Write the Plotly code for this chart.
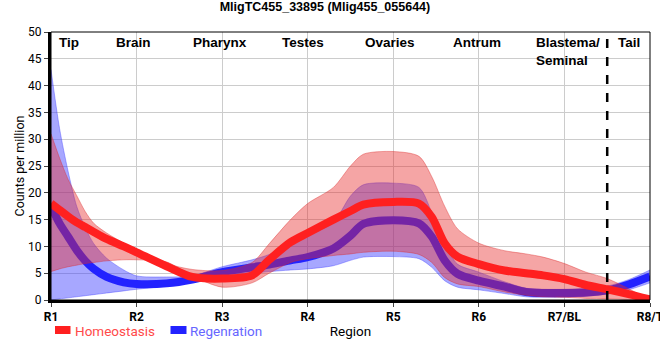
import plotly.graph_objects as go

# ---- data ----
x_pos = [1, 1.1, 1.2, 1.3, 1.4, 1.5, 1.65, 1.85, 2, 2.35, 2.65, 3, 3.35, 3.55, 3.8, 4, 4.3,
         4.5, 4.65, 5, 5.3, 5.45, 5.6, 5.75, 6, 6.3, 6.55, 6.75, 7, 7.25, 7.5, 7.75, 8]

homeo_mean = [18, 16.8, 15.6, 14.5, 13.6, 12.7, 11.4, 10.0, 8.9, 6.3, 4.3, 4.0, 4.6, 7.5, 10.8,
              12.5, 15.0, 16.6, 17.8, 18.3, 18.0, 15.5, 10.6, 8.1, 6.7, 5.5, 5.0, 4.6, 3.9, 2.8,
              2.0, 1.1, 0.1]
homeo_upper = [31, 26.5, 22.5, 19.5, 16.5, 14.3, 12.5, 10.6, 9.3, 6.8, 5.7, 5.5, 7.0, 10.5, 15.0,
               18.0, 21.0, 25.0, 27.2, 27.7, 26.8, 23.0, 17.5, 13.3, 10.6, 9.2, 8.6, 8.0, 6.8, 5.2,
               4.0, 2.1, 0]
homeo_lower = [5.3, 5.8, 6.2, 6.5, 6.8, 7.0, 7.3, 7.5, 7.5, 7.1, 4.5, 2.4, 3.2, 5.0, 7.0,
               7.7, 8.3, 8.6, 8.9, 9.1, 8.5, 7.0, 4.2, 3.0, 2.5, 1.5, 0.9, 0.6, 0.5, 0.3,
               0.2, 0.1, 0]

regen_mean = [17.5, 14.3, 11.8, 9.3, 7.3, 5.8, 4.3, 3.3, 3.0, 3.1, 3.8, 5.2, 6.1, 6.6, 7.4,
              8.0, 9.6, 12.0, 14.2, 14.9, 14.3, 11.8, 7.4, 4.9, 3.6, 2.5, 1.5, 1.3, 1.3, 1.4,
              1.8, 2.9, 4.4]
regen_upper = [43, 32, 24, 17.5, 13.5, 10.5, 7.8, 5.6, 4.5, 4.3, 4.5, 6.2, 7.5, 8.5, 10.5,
               12, 14.5, 19.4, 21.5, 21.8, 21.0, 16.3, 10.5, 6.7, 5.2, 3.4, 2.2, 2.0, 2.0, 2.2,
               2.6, 3.8, 5.6]
regen_lower = [0, 0.2, 0.4, 0.6, 0.8, 1.0, 1.3, 1.7, 2.0, 2.6, 3.3, 4.5, 5.0, 5.3, 5.6,
               5.8, 6.4, 7.4, 8.0, 8.1, 7.7, 6.1, 3.6, 2.4, 1.9, 1.2, 0.6, 0.5, 0.5, 0.7,
               1.1, 1.9, 3.2]

tick_vals = [1, 2, 3, 4, 5, 6, 7, 8]
tick_text = ["R1", "R2", "R3", "R4", "R5", "R6", "R7/BL", "R8/T"]

region_names = ["Tip", "Brain", "Pharynx", "Testes", "Ovaries", "Antrum", "Blastema/<br>Seminal", "Tail"]
region_x = [1.21, 1.96, 2.98, 3.94, 4.96, 5.98, 6.65, 7.76]
region_anchor = ["center", "center", "center", "center", "center", "center", "left", "center"]

series_names = ["Homeostasis", "Regenration"]
series_line_colors = ["#ff2020", "#2222ff"]
series_text_colors = ["#ff4a4a", "#6666ff"]

title_text = "MligTC455_33895 (Mlig455_055644)"

# ---- figure ----
fig = go.Figure()

BLUE_BAND = "rgba(60,60,255,0.45)"
RED_BAND = "rgba(230,40,40,0.42)"
SPL = dict(shape="spline", smoothing=0.8)

fig.add_trace(go.Scatter(x=x_pos, y=regen_lower, mode="lines", line=dict(width=0.8, color="rgba(60,60,255,0.5)", **SPL),
                         showlegend=False, hoverinfo="skip"))
fig.add_trace(go.Scatter(x=x_pos, y=regen_upper, mode="lines", line=dict(width=0.8, color="rgba(60,60,255,0.5)", **SPL),
                         fill="tonexty", fillcolor=BLUE_BAND, showlegend=False, hoverinfo="skip"))
fig.add_trace(go.Scatter(x=x_pos, y=regen_mean, mode="lines", line=dict(width=8, color=series_line_colors[1], **SPL),
                         name=series_names[1], showlegend=False))
fig.add_trace(go.Scatter(x=x_pos, y=homeo_lower, mode="lines", line=dict(width=0.8, color="rgba(220,40,40,0.5)", **SPL),
                         showlegend=False, hoverinfo="skip"))
fig.add_trace(go.Scatter(x=x_pos, y=homeo_upper, mode="lines", line=dict(width=0.8, color="rgba(220,40,40,0.5)", **SPL),
                         fill="tonexty", fillcolor=RED_BAND, showlegend=False, hoverinfo="skip"))
fig.add_trace(go.Scatter(x=x_pos, y=homeo_mean, mode="lines", line=dict(width=8, color=series_line_colors[0], **SPL),
                         name=series_names[0], showlegend=False))

fig.add_shape(type="line", x0=7.5, x1=7.5, y0=0, y1=50, xref="x", yref="y",
              line=dict(color="black", width=2.5, dash="dash"))
fig.add_shape(type="rect", x0=0, x1=1, y0=0, y1=1, xref="paper", yref="paper",
              line=dict(color="black", width=1))

for name, xv, anc in zip(region_names, region_x, region_anchor):
    fig.add_annotation(x=xv, y=1, xref="x", yref="paper", text="<b>" + name + "</b>",
                       showarrow=False, xanchor=anc, yanchor="top", yshift=-1, align="left",
                       font=dict(family="Liberation Sans, Arial", size=13.5, color="black"))

# custom legend (bar + coloured label) below the axis
PW, PH, ML, MB = 599.0, 268.0, 51.0, 300.0
def px_x(p):
    return (p - ML) / PW
def px_y(p):
    return (MB - p) / PH

legend_bar_px = [(55, 70.5), (170.5, 186.5)]
legend_text_px = [74, 189]
for i in range(2):
    x0, x1 = legend_bar_px[i]
    fig.add_shape(type="rect", xref="paper", yref="paper", x0=px_x(x0), x1=px_x(x1),
                  y0=px_y(334), y1=px_y(326), line=dict(width=0), fillcolor=series_line_colors[i])
    fig.add_annotation(xref="paper", yref="paper", x=px_x(legend_text_px[i]), y=px_y(331),
                       xanchor="left", yanchor="middle", showarrow=False, text=series_names[i],
                       borderpad=0,
                       font=dict(family="Roboto", size=13.5, color=series_text_colors[i]))

fig.update_layout(
    width=660, height=360,
    template="none",
    paper_bgcolor="white", plot_bgcolor="white",
    margin=dict(l=51, r=10, t=32, b=60),
    title=dict(text="<b>" + title_text + "</b>", x=0.4924, xanchor="center", y=0.995, yanchor="top",
               font=dict(family="Liberation Sans, Arial", size=12.5, color="black")),
    showlegend=False,
    font=dict(family="Roboto", color="black"),
)

fig.update_xaxes(range=[1, 8], tickvals=tick_vals, ticktext=tick_text, automargin=False,
                 ticklabeloverflow="allow",
                 showgrid=True, gridcolor="#cccccc", gridwidth=1, zeroline=False,
                 showline=True, linecolor="black", linewidth=3, ticks="outside", ticklen=4, tickwidth=1,
                 tickfont=dict(family="Roboto", size=12, color="black", weight="bold"),
                 title=dict(text="Region", font=dict(family="Roboto", size=13.5, color="black"), standoff=4))
fig.update_yaxes(range=[0, 50], dtick=5, automargin=False,
                 showgrid=True, gridcolor="#cccccc", gridwidth=1, zeroline=False,
                 showline=True, linecolor="black", linewidth=3, ticks="outside", ticklen=4, tickwidth=1,
                 tickfont=dict(family="Roboto", size=12, color="black"),
                 title=dict(text="Counts per million", font=dict(family="Roboto", size=12.5, color="black"), standoff=1))

fig.write_html("out.html", config={"displayModeBar": False},
               post_script="document.body.style.margin='0';document.body.style.overflow='hidden';")
